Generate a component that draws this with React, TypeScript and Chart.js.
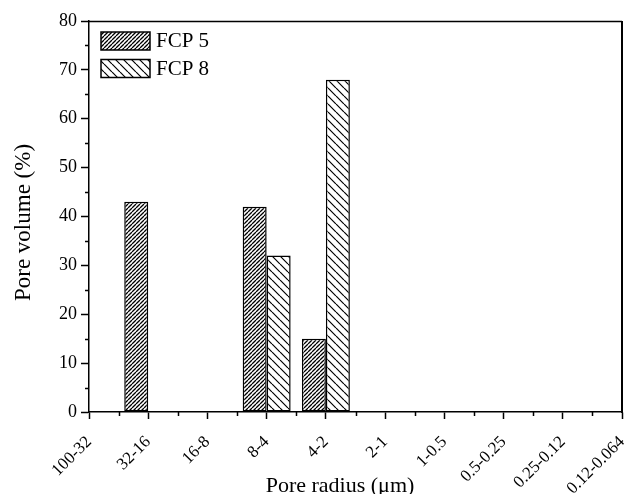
import React, { useEffect, useRef } from "react";
import { Chart, registerables } from "chart.js";

Chart.register(...registerables);

const categories = [
  "100-32",
  "32-16",
  "16-8",
  "8-4",
  "4-2",
  "2-1",
  "1-0.5",
  "0.5-0.25",
  "0.25-0.12",
  "0.12-0.064",
];
const seriesLabels = ["FCP 5", "FCP 8"];
const fcp5Values = [null, 43, null, 42, 15, null, null, null, null, null];
const fcp8Values = [null, null, null, 32, 68, null, null, null, null, null];
const yMin = 0;
const yMax = 80;
const yStep = 10;
const xTitle = "Pore radius (\u03bcm)";
const yTitle = "Pore volume (%)";

const FONT = "'Liberation Serif', 'Times New Roman', serif";

function makeHatch(spacing: number, dir: 1 | -1, lineWidth: number, color: string) {
  const c = document.createElement("canvas");
  c.width = spacing;
  c.height = spacing;
  const g = c.getContext("2d")!;
  g.fillStyle = "#fff";
  g.fillRect(0, 0, spacing, spacing);
  g.strokeStyle = color;
  g.lineWidth = lineWidth;
  g.beginPath();
  for (const k of [-1, 0, 1]) {
    if (dir === 1) {
      g.moveTo(k * spacing, spacing);
      g.lineTo(k * spacing + spacing, 0);
    } else {
      g.moveTo(k * spacing, 0);
      g.lineTo(k * spacing + spacing, spacing);
    }
  }
  g.stroke();
  return g.createPattern(c, "repeat") as CanvasPattern;
}

const decorPlugin = {
  id: "decor",
  afterDraw(chart: any) {
    const { ctx, chartArea, scales } = chart;
    const x = scales.x;
    const y = scales.y;
    ctx.save();
    ctx.strokeStyle = "#000";
    // minor ticks
    ctx.lineWidth = 1.5;
    ctx.beginPath();
    for (let i = 0; i < x.ticks.length - 1; i++) {
      const px = Math.round((x.getPixelForTick(i) + x.getPixelForTick(i + 1)) / 2) + 0.5;
      ctx.moveTo(px, chartArea.bottom);
      ctx.lineTo(px, chartArea.bottom + 4);
    }
    for (let i = 0; i < y.ticks.length - 1; i++) {
      const v = (y.ticks[i].value + y.ticks[i + 1].value) / 2;
      const py = Math.round(y.getPixelForValue(v)) + 0.5;
      ctx.moveTo(chartArea.left, py);
      ctx.lineTo(chartArea.left - 4, py);
    }
    ctx.stroke();
    // frame top & right
    ctx.beginPath();
    ctx.lineWidth = 1.5;
    ctx.moveTo(chartArea.left, chartArea.top + 0.5);
    ctx.lineTo(chartArea.right, chartArea.top + 0.5);
    ctx.stroke();
    ctx.beginPath();
    ctx.lineWidth = 2;
    ctx.moveTo(chartArea.right, chartArea.top);
    ctx.lineTo(chartArea.right, chartArea.bottom + 1);
    ctx.stroke();

    // legend inside plot
    chart.data.datasets.forEach((ds: any, i: number) => {
      const bx = chartArea.left + 12;
      const by = chartArea.top + 11 + i * 27.5;
      const bw = 49;
      const bh = 18;
      ctx.fillStyle = ds.backgroundColor;
      ctx.fillRect(bx, by, bw, bh);
      ctx.lineWidth = 1.5;
      ctx.strokeStyle = "#000";
      ctx.strokeRect(bx, by, bw, bh);
      ctx.fillStyle = "#000";
      ctx.font = `21px ${FONT}`;
      ctx.textAlign = "left";
      ctx.textBaseline = "middle";
      ctx.fillText(ds.label, bx + bw + 6, by + bh / 2 + 0.5);
    });

    // axis titles
    ctx.fillStyle = "#000";
    ctx.font = `22px ${FONT}`;
    ctx.textAlign = "center";
    ctx.textBaseline = "alphabetic";
    ctx.fillText(xTitle, 340, 492);

    ctx.save();
    ctx.translate(24, 222.5);
    ctx.rotate(-Math.PI / 2);
    ctx.font = `23px ${FONT}`;
    ctx.textAlign = "center";
    ctx.textBaseline = "middle";
    ctx.fillText(yTitle, 0, 0);
    ctx.restore();

    ctx.restore();
  },
};

export default function App() {
  const ref = useRef<HTMLCanvasElement>(null);

  useEffect(() => {
    document.body.style.margin = "0";
    const canvas = ref.current!;
    const fcp5Pattern = makeHatch(4, 1, 1.3, "#000");
    const fcp8Pattern = makeHatch(8, -1, 1.2, "#000");

    const chart = new Chart(canvas, {
      type: "bar",
      data: {
        labels: categories,
        datasets: [
          {
            label: seriesLabels[0],
            data: fcp5Values as any,
            backgroundColor: fcp5Pattern as any,
            borderColor: "#000",
            borderWidth: 1.5,
            borderSkipped: false,
          },
          {
            label: seriesLabels[1],
            data: fcp8Values as any,
            backgroundColor: fcp8Pattern as any,
            borderColor: "#000",
            borderWidth: 1.5,
            borderSkipped: false,
          },
        ],
      },
      options: {
        animation: false,
        responsive: false,
        devicePixelRatio: 1,
        layout: { padding: { left: 0, top: 21, right: 4, bottom: 0 } },
        plugins: {
          legend: { display: false },
          tooltip: { enabled: false },
        },
        datasets: {
          bar: { categoryPercentage: 0.81, barPercentage: 1 },
        },
        scales: {
          x: {
            type: "category",
            offset: false,
            grid: {
              offset: false,
              drawOnChartArea: false,
              drawTicks: true,
              tickLength: 7,
              tickColor: "#000",
              tickWidth: 1.5,
            },
            border: { display: true, color: "#000", width: 1.5 },
            ticks: {
              autoSkip: false,
              minRotation: 45,
              maxRotation: 45,
              padding: 13,
              color: "#000",
              font: { family: FONT, size: 17 },
            },
            afterFit: (s: any) => {
              s.height = 82;
              s.paddingLeft = 0;
              s.paddingRight = 0;
            },
          },
          y: {
            min: yMin,
            max: yMax,
            grid: {
              drawOnChartArea: false,
              drawTicks: true,
              tickLength: 8,
              tickColor: "#000",
              tickWidth: 1.5,
            },
            border: { display: true, color: "#000", width: 1.5 },
            ticks: {
              stepSize: yStep,
              padding: 4,
              color: "#000",
              font: { family: FONT, size: 18 },
            },
            afterFit: (s: any) => {
              s.width = 89;
              s.paddingTop = 0;
              s.paddingBottom = 0;
            },
          },
        },
      },
      plugins: [decorPlugin],
    });

    return () => chart.destroy();
  }, []);

  return (
    <div style={{ width: 626, height: 494, background: "#fff" }}>
      <canvas ref={ref} width={626} height={494} />
    </div>
  );
}
